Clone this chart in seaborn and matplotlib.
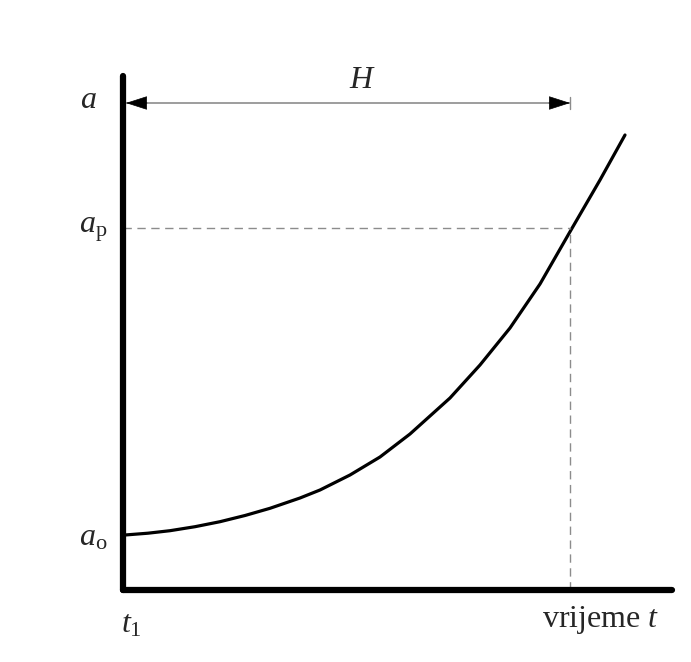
import matplotlib
matplotlib.use("Agg")
import matplotlib.pyplot as plt
import seaborn as sns
import pandas as pd

# data (arbitrary units)
t_vals = [2, 25, 47, 72, 97, 122, 147, 177, 197, 227, 257, 287, 327, 357, 387, 417, 448, 477, 502]
a_vals = [55, 56.8, 59.3, 63.3, 68.3, 74.5, 81.7, 92, 100, 115, 133, 156, 192, 225, 262, 306, 360, 410, 455]
a_p = 362
t_H = 447
arrow_y = 487

sns.set_style("white")
plt.rcParams["font.family"] = ["Liberation Serif", "DejaVu Serif"]
plt.rcParams["mathtext.fontset"] = "custom"
plt.rcParams["mathtext.rm"] = "Liberation Serif"
plt.rcParams["mathtext.it"] = "Liberation Serif:italic"

W, H = 691, 662
fig = plt.figure(figsize=(W / 100, H / 100), dpi=100)
fig.patch.set_facecolor("white")
ax = fig.add_axes([123 / W, (H - 590) / H, (672 - 123) / W, (590 - 76) / H])
ax.set_facecolor("white")

df = pd.DataFrame({"t": t_vals, "a": a_vals})
sns.lineplot(data=df, x="t", y="a", ax=ax, color="black", lw=2.3, sort=False)
for ln in ax.lines:
    ln.set_solid_joinstyle("round")
    ln.set_solid_capstyle("round")

ax.set_xlim(0, 549)
ax.set_ylim(0, 514)
ax.set_xticks([])
ax.set_yticks([])
ax.set_xlabel("")
ax.set_ylabel("")
for s in ["top", "right"]:
    ax.spines[s].set_visible(False)
for s in ["left", "bottom"]:
    ax.spines[s].set_linewidth(4.5)
    ax.spines[s].set_color("black")
    ax.spines[s].set_capstyle("round")
    ax.spines[s].set_zorder(5)

# dashed guides
ax.plot([0, t_H], [a_p, a_p], color="#8c8c8c", lw=1.0, ls=(0, (6, 4)))
ax.plot([t_H, t_H], [0, a_p], color="#8c8c8c", lw=1.0, ls=(0, (6, 4)))

# H dimension arrow
ax.plot([3, t_H], [arrow_y, arrow_y], color="#8c8c8c", lw=1.2, clip_on=False)
ax.plot([t_H, t_H], [arrow_y - 6, arrow_y + 6], color="#8c8c8c", lw=1.0, clip_on=False)
ax.annotate("", xy=(3, arrow_y), xytext=(24, arrow_y),
            arrowprops=dict(arrowstyle="-|>,head_length=1.4,head_width=0.45",
                            color="black", lw=0.5, shrinkA=0, shrinkB=0),
            annotation_clip=False)
ax.annotate("", xy=(t_H, arrow_y), xytext=(t_H - 21, arrow_y),
            arrowprops=dict(arrowstyle="-|>,head_length=1.4,head_width=0.45",
                            color="black", lw=0.5, shrinkA=0, shrinkB=0),
            annotation_clip=False)

fs = 23
ax.text(239, 510, r"$H$", fontsize=fs, ha="center", va="center", clip_on=False)
ax.text(-35, 490, r"$a$", fontsize=fs, ha="center", va="center", clip_on=False)
ax.text(-30, a_p - 2, r"$a_\mathrm{p}$", fontsize=fs, ha="center", va="center", clip_on=False)
ax.text(-30, 52, r"$a_\mathrm{o}$", fontsize=fs, ha="center", va="center", clip_on=False)
ax.text(8, -35, r"$t_1$", fontsize=fs, ha="center", va="center", clip_on=False)
ax.text(478, -30, r"vrijeme $t$", fontsize=fs, ha="center", va="center", clip_on=False)

fig.savefig("out.png", dpi=100, facecolor="white")
